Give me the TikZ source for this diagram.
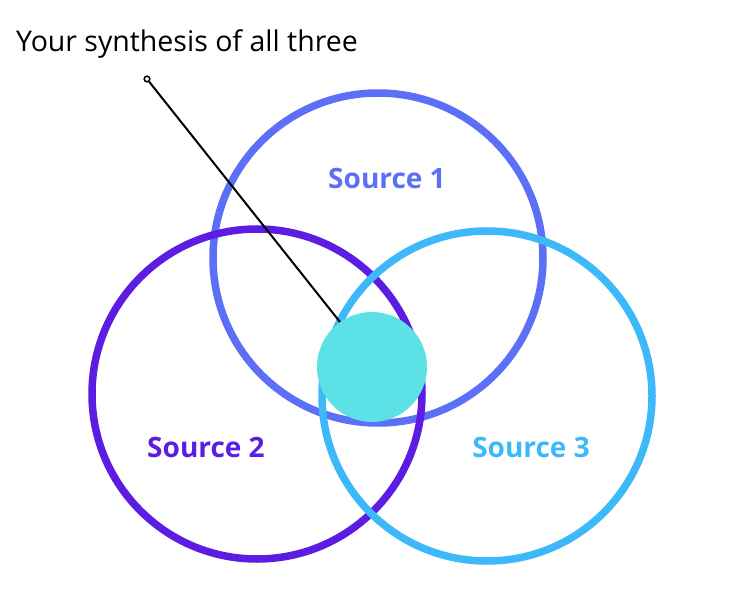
\documentclass[tikz,border=0pt]{standalone}
\usepackage{fontspec}
\setmainfont{Open Sans}
\usetikzlibrary{positioning}
\definecolor{srcone}{HTML}{5B70F6}
\definecolor{srctwo}{HTML}{5C1CE2}
\definecolor{srcthree}{HTML}{3DB8F9}
\definecolor{synth}{HTML}{5CE1E6}
\tikzset{
    ring/.style={draw, line width=7.5pt},
    label/.style={font=\bfseries\fontsize{28}{32}\selectfont},
}
\begin{document}
\begin{tikzpicture}[x=1pt, y=-1pt]
	\useasboundingbox (0,0) rectangle (731,596);
	\node[ring, srcone, circle, minimum size=330pt] (one) at (378,258) {};
	\node[ring, srctwo, circle, minimum size=330pt] (two) at (257,394) {};
	\node[ring, srcthree, circle, minimum size=330pt] (three) at (487,396) {};
	\node[circle, fill=synth, minimum size=110pt] (mid) at (372,367) {};
	\node[label, text=srcone] (l1) at (387,178) {Source 1};
	\node[label, text=srctwo] (l2) at (206,447) {Source 2};
	\node[label, text=srcthree] (l3) at (531,447) {Source 3};
	\node[anchor=base west, inner sep=0pt, font=\fontsize{28.5}{32}\selectfont] (title) at (16,52) {Your synthesis of all three};
	\node[circle, draw, line width=1.5pt, inner sep=2pt] (dot) at (147,79) {};
	\draw[line width=2pt] (dot) -- (340,322);
\end{tikzpicture}
\end{document}
